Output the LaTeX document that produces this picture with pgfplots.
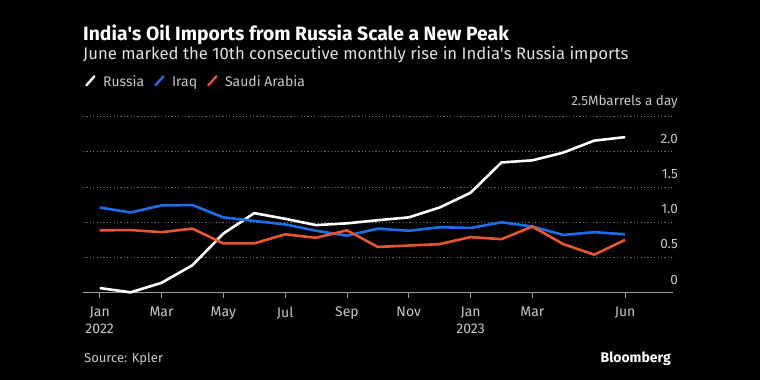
\documentclass[border=0pt]{standalone}
\usepackage{fontspec}
\setmainfont{Fira Sans}
\usepackage{pgfplots}
\pgfplotsset{compat=1.18}
\definecolor{rus}{HTML}{FFFFFF}
\definecolor{irq}{HTML}{1C6FE8}
\definecolor{sau}{HTML}{E8552E}
\definecolor{lab}{HTML}{C8C8C8}
\definecolor{gridc}{HTML}{6A6A6A}
\begin{document}
\begin{tikzpicture}
\fill[black] (0,0) rectangle (760bp,-380bp);
\useasboundingbox (0,0) rectangle (760bp,-380bp);
\node[anchor=base west, inner sep=0, text=white, font=\fontsize{19.3bp}{22bp}\selectfont\bfseries] at (83bp,-40bp) {India\textquotesingle s Oil Imports from Russia Scale a New Peak};
\node[anchor=base west, inner sep=0, text=white!88!black, font=\fontsize{16.7bp}{20bp}\selectfont] at (83bp,-59.5bp) {June marked the 10th consecutive monthly rise in India\textquotesingle s Russia imports};
\node[anchor=base west, inner sep=0, text=lab, font=\fontsize{13bp}{16bp}\selectfont] at (84bp,-362.3bp) {Source: Kpler};
\node[anchor=base east, inner sep=0, text=white, font=\fontsize{14bp}{16bp}\selectfont\bfseries] at (671bp,-362.5bp) {Bloomberg};
\begin{axis}[
  at={(83bp,-292.7bp)}, anchor=south west,
  scale only axis, width=590bp, height=176bp,
  xmin=-0.54, xmax=18.55, ymin=0, ymax=2.5,
  clip=false,
  axis x line*=bottom, axis y line*=right,
  x axis line style={-, draw=gray!75, line width=1bp},
  y axis line style={draw=none},
  xtick={0,2,4,6,8,10,12,14,17},
  xticklabels={Jan\\2022,Mar,May,Jul,Sep,Nov,Jan\\2023,Mar,Jun},
  ytick={0,0.5,1,1.5,2,2.5},
  yticklabels={0,0.5,1.0,1.5,2.0,2.5Mbarrels a day},
  tick align=outside, major tick length=5bp,
  xtick style={draw=gray!75, line width=0.8bp},
  ytick style={draw=none},
  ymajorgrids, grid style={gridc, line width=0.9bp, dash pattern=on 1.2bp off 2.2bp},
  xticklabel style={anchor=north, inner sep=0, yshift=-9bp, align=center, text=lab, font=\fontsize{14bp}{16.7bp}\selectfont},
  yticklabel style={anchor=south east, inner sep=0, xshift=0bp, yshift=8.2bp, text=lab, font=\fontsize{13.5bp}{16bp}\selectfont},
  legend style={at={(axis description cs:0,1)}, anchor=south west, yshift=26.7bp, xshift=2bp, draw=none, fill=none, text=lab, font=\fontsize{14bp}{16bp}\selectfont, inner sep=0, nodes={inner sep=0, text height=10bp, text depth=3bp}, /tikz/every odd column/.append style={column sep=7.5bp}, /tikz/every even column/.append style={column sep=10bp}},
  legend columns=3,
  legend image code/.code={\draw[#1, line width=2.4bp, line cap=round] (0bp,-2bp) -- (8bp,7bp);},
  every axis plot/.append style={line width=2.6bp, line join=round},
]
\addplot[rus] coordinates {(0,0.066)(1,0.005)(2,0.14)(3,0.39)(4,0.84)(5,1.13)(6,1.05)(7,0.96)(8,0.985)(9,1.03)(10,1.07)(11,1.21)(12,1.42)(13,1.85)(14,1.88)(15,1.99)(16,2.16)(17,2.21)};
\addplot[irq] coordinates {(0,1.21)(1,1.14)(2,1.24)(3,1.245)(4,1.07)(5,1.02)(6,0.97)(7,0.88)(8,0.81)(9,0.91)(10,0.88)(11,0.93)(12,0.92)(13,1.00)(14,0.94)(15,0.82)(16,0.86)(17,0.83)};
\addplot[sau] coordinates {(0,0.886)(1,0.89)(2,0.86)(3,0.91)(4,0.70)(5,0.70)(6,0.83)(7,0.78)(8,0.886)(9,0.65)(10,0.67)(11,0.69)(12,0.79)(13,0.76)(14,0.94)(15,0.69)(16,0.54)(17,0.75)};
\legend{Russia,Iraq,Saudi Arabia}
\end{axis}
\end{tikzpicture}
\end{document}
